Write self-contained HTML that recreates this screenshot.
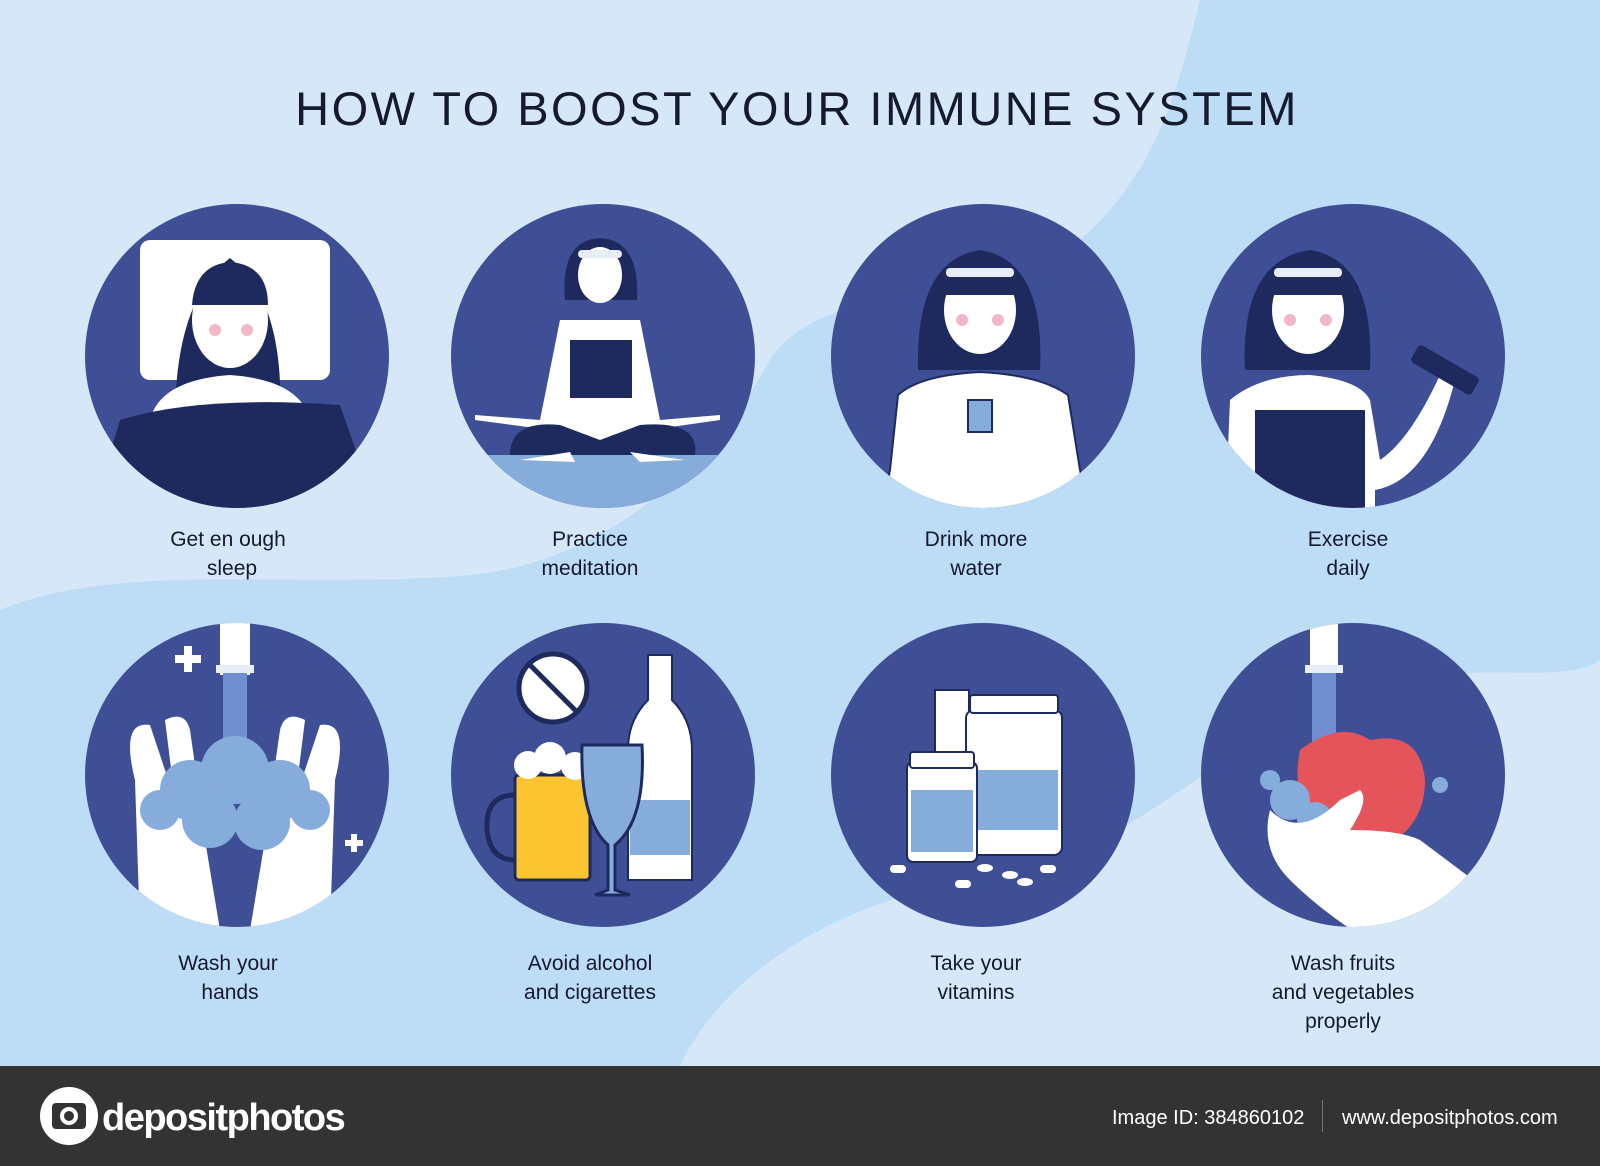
<!DOCTYPE html>
<html><head><meta charset="utf-8"><style>
html,body{margin:0;padding:0}
body{width:1600px;height:1166px;overflow:hidden;font-family:"Liberation Sans",Arial,sans-serif;background:#d6e8f8}
</style></head><body>
<svg width="1600" height="1166" viewBox="0 0 1600 1166" xmlns="http://www.w3.org/2000/svg" style="position:absolute;left:0;top:0">
<rect width="1600" height="1166" fill="#d6e8f8"/>
<path d="M1200 0 C1180 80 1160 170 1080 240 C990 300 820 280 770 360 C720 450 620 560 470 575 C300 590 120 560 0 610 L0 1066 L680 1066 C720 980 830 900 980 880 C1120 860 1200 760 1330 700 C1450 650 1560 690 1600 660 L1600 0 Z" fill="#bddcf6"/>
<text x="797" y="125" text-anchor="middle" font-size="47" fill="#151a2e" letter-spacing="2.5">HOW  TO BOOST YOUR IMMUNE SYSTEM</text>
<g fill="#3f4f96">
<circle cx="237" cy="356" r="152"/><circle cx="603" cy="356" r="152"/><circle cx="983" cy="356" r="152"/><circle cx="1353" cy="356" r="152"/>
<circle cx="237" cy="775" r="152"/><circle cx="603" cy="775" r="152"/><circle cx="983" cy="775" r="152"/><circle cx="1353" cy="775" r="152"/>
</g>
<defs>
<clipPath id="c1"><circle cx="237" cy="356" r="152"/></clipPath>
<clipPath id="c2"><circle cx="603" cy="356" r="152"/></clipPath>
<clipPath id="c3"><circle cx="983" cy="356" r="152"/></clipPath>
<clipPath id="c4"><circle cx="1353" cy="356" r="152"/></clipPath>
<clipPath id="c5"><circle cx="237" cy="775" r="152"/></clipPath>
<clipPath id="c6"><circle cx="603" cy="775" r="152"/></clipPath>
<clipPath id="c7"><circle cx="983" cy="775" r="152"/></clipPath>
<clipPath id="c8"><circle cx="1353" cy="775" r="152"/></clipPath>
</defs>
<g clip-path="url(#c1)">
<rect x="140" y="240" width="190" height="140" rx="10" fill="#fff"/>
<path d="M175 420 Q175 300 230 258 Q285 300 280 420 Z" fill="#1e2a5e"/>
<ellipse cx="230" cy="320" rx="38" ry="48" fill="#fff"/>
<path d="M192 305 Q195 265 230 262 Q268 265 268 305 Z" fill="#1e2a5e"/>
<circle cx="215" cy="330" r="6" fill="#f3b8c8"/><circle cx="247" cy="330" r="6" fill="#f3b8c8"/>
<path d="M150 420 Q160 380 230 375 Q300 380 310 420 Z" fill="#fff"/>
<path d="M120 420 Q200 395 340 405 L380 520 L90 520 Z" fill="#1e2a5e"/>
</g>
<g clip-path="url(#c2)">
<rect x="440" y="455" width="330" height="60" fill="#86acdb"/>
<path d="M565 300 Q560 240 600 238 Q640 240 637 300 Z" fill="#1e2a5e"/>
<ellipse cx="600" cy="275" rx="22" ry="28" fill="#fff"/>
<rect x="578" y="250" width="44" height="8" rx="4" fill="#e8eef8"/>
<path d="M560 320 L640 320 L660 420 L720 415 L720 420 L650 430 L640 440 L560 440 L550 430 L475 420 L475 415 L540 420 Z" fill="#fff"/>
<rect x="570" y="340" width="62" height="58" fill="#1e2a5e"/>
<path d="M510 455 Q510 420 560 425 L600 440 L640 425 Q700 420 695 455 Z" fill="#1e2a5e"/>
<path d="M520 460 L570 452 L575 462 Z M630 452 L685 460 L640 462 Z" fill="#fff"/>
</g>
<g clip-path="url(#c3)">
<path d="M918 370 Q915 260 980 250 Q1045 260 1040 370 Z" fill="#1e2a5e"/>
<ellipse cx="980" cy="310" rx="36" ry="44" fill="#fff"/>
<path d="M945 295 Q948 260 980 258 Q1013 260 1015 295 Z" fill="#1e2a5e"/>
<rect x="946" y="268" width="68" height="9" rx="4" fill="#e8eef8"/>
<circle cx="962" cy="320" r="6" fill="#f3b8c8"/><circle cx="998" cy="320" r="6" fill="#f3b8c8"/>
<path d="M890 470 L898 395 Q920 375 980 372 Q1040 375 1068 395 L1080 470 L1090 520 L880 520 Z" fill="#fff" stroke="#1e2a5e" stroke-width="2"/>
<rect x="968" y="400" width="24" height="32" fill="#86acdb" stroke="#1e2a5e" stroke-width="2"/>
</g>
<g clip-path="url(#c4)">
<path d="M1245 370 Q1240 260 1310 250 Q1375 260 1370 370 Z" fill="#1e2a5e"/>
<ellipse cx="1308" cy="310" rx="36" ry="44" fill="#fff"/>
<path d="M1273 295 Q1276 260 1308 258 Q1342 260 1343 295 Z" fill="#1e2a5e"/>
<rect x="1274" y="268" width="68" height="9" rx="4" fill="#e8eef8"/>
<circle cx="1290" cy="320" r="6" fill="#f3b8c8"/><circle cx="1326" cy="320" r="6" fill="#f3b8c8"/>
<path d="M1225 520 L1230 400 Q1260 375 1310 375 Q1360 380 1370 400 L1380 460 Q1410 440 1440 375 L1455 380 Q1430 480 1375 490 L1375 520 Z" fill="#fff"/>
<rect x="1255" y="410" width="110" height="110" fill="#1e2a5e"/>
<g transform="rotate(30 1445 370)"><rect x="1410" y="360" width="70" height="20" rx="4" fill="#1e2a5e"/></g>
</g>
<g clip-path="url(#c5)">
<rect x="220" y="620" width="30" height="55" fill="#fff"/>
<rect x="216" y="665" width="38" height="8" fill="#e8eef8"/>
<rect x="223" y="673" width="24" height="90" fill="#6f8fd0"/>
<path d="M135 780 Q120 720 150 725 L175 800 L165 720 Q185 710 190 730 L200 800 L205 840 L220 930 L140 930 Z" fill="#fff"/>
<path d="M335 780 Q350 720 320 725 L295 800 L305 720 Q285 710 280 730 L270 800 L265 840 L250 930 L330 930 Z" fill="#fff"/>
<g fill="#86acdb"><circle cx="190" cy="790" r="30"/><circle cx="235" cy="770" r="34"/><circle cx="280" cy="790" r="30"/><circle cx="210" cy="820" r="28"/><circle cx="262" cy="822" r="28"/><circle cx="160" cy="810" r="20"/><circle cx="310" cy="810" r="20"/></g>
<g fill="#fff"><rect x="175" y="655" width="26" height="8"/><rect x="184" y="646" width="8" height="26"/><rect x="345" y="840" width="18" height="6"/><rect x="351" y="834" width="6" height="18"/></g>
</g>
<g clip-path="url(#c6)">
<circle cx="553" cy="688" r="34" fill="#fff" stroke="#1e2a5e" stroke-width="5"/>
<line x1="530" y1="665" x2="576" y2="711" stroke="#1e2a5e" stroke-width="5"/>
<path d="M648 655 L672 655 L672 700 Q692 720 692 750 L692 880 L628 880 L628 750 Q628 720 648 700 Z" fill="#fff" stroke="#1e2a5e" stroke-width="2"/>
<rect x="630" y="800" width="60" height="55" fill="#86acdb"/>
<rect x="515" y="775" width="75" height="105" rx="4" fill="#fbc531" stroke="#1e2a5e" stroke-width="3"/>
<path d="M515 795 Q485 795 487 830 Q490 860 515 860" fill="none" stroke="#1e2a5e" stroke-width="5"/>
<g fill="#fff"><circle cx="528" cy="765" r="14"/><circle cx="550" cy="758" r="16"/><circle cx="575" cy="766" r="14"/></g>
<path d="M582 745 L642 745 Q646 820 615 845 L615 890 L630 895 L595 895 L608 890 L608 845 Q580 820 582 745 Z" fill="#86acdb" stroke="#1e2a5e" stroke-width="3"/>
</g>
<g clip-path="url(#c7)">
<rect x="935" y="690" width="34" height="90" fill="#fff" stroke="#1e2a5e" stroke-width="2"/>
<rect x="966" y="710" width="96" height="145" rx="8" fill="#fff" stroke="#1e2a5e" stroke-width="2"/>
<rect x="970" y="695" width="88" height="18" rx="3" fill="#fff" stroke="#1e2a5e" stroke-width="2"/>
<rect x="970" y="770" width="88" height="60" fill="#86acdb"/>
<rect x="907" y="762" width="70" height="100" rx="6" fill="#fff" stroke="#1e2a5e" stroke-width="2"/>
<rect x="910" y="752" width="64" height="16" rx="3" fill="#fff" stroke="#1e2a5e" stroke-width="2"/>
<rect x="911" y="790" width="62" height="62" fill="#86acdb"/>
<g fill="#fff"><rect x="890" y="865" width="16" height="8" rx="4"/><rect x="1040" y="865" width="16" height="8" rx="4"/><rect x="955" y="880" width="16" height="8" rx="4"/><ellipse cx="985" cy="868" rx="8" ry="4"/><ellipse cx="1010" cy="875" rx="8" ry="4"/><ellipse cx="1025" cy="882" rx="8" ry="4"/></g>
</g>
<g clip-path="url(#c8)">
<rect x="1310" y="620" width="28" height="50" fill="#fff"/>
<rect x="1305" y="665" width="38" height="8" fill="#e8eef8"/>
<rect x="1312" y="673" width="24" height="100" fill="#6f8fd0"/>
<path d="M1300 750 Q1340 720 1370 740 Q1420 730 1425 780 Q1425 820 1395 840 Q1350 850 1320 830 Q1290 800 1300 750 Z" fill="#e4545a"/>
<g fill="#86acdb"><circle cx="1290" cy="800" r="20"/><circle cx="1315" cy="820" r="18"/><circle cx="1270" cy="780" r="10"/><circle cx="1440" cy="785" r="8"/></g>
<path d="M1270 810 Q1300 840 1340 800 L1360 790 Q1370 800 1350 830 Q1400 830 1420 840 L1500 900 L1400 960 Q1330 920 1290 880 Q1260 850 1270 810 Z" fill="#fff"/>
</g>
<g font-size="21" fill="#151a2e" text-anchor="middle">
<text x="228" y="546">Get  en ough</text><text x="232" y="575">sleep</text>
<text x="590" y="546">Practice</text><text x="590" y="575">meditation</text>
<text x="976" y="546">Drink more</text><text x="976" y="575">water</text>
<text x="1348" y="546">Exercise</text><text x="1348" y="575">daily</text>
<text x="228" y="970">Wash your</text><text x="230" y="999">hands</text>
<text x="590" y="970">Avoid alcohol</text><text x="590" y="999">and cigarettes</text>
<text x="976" y="970">Take your</text><text x="976" y="999">vitamins</text>
<text x="1343" y="970">Wash fruits</text><text x="1343" y="999">and vegetables</text><text x="1343" y="1028">properly</text>
</g>
<rect x="0" y="1066" width="1600" height="100" fill="#333333"/>
<circle cx="69" cy="1116" r="29" fill="#fff"/>
<rect x="52" y="1103" width="34" height="26" rx="4" fill="#333"/>
<circle cx="69" cy="1116" r="9" fill="#fff"/><circle cx="69" cy="1116" r="5" fill="#333"/>
<text x="102" y="1130" font-size="38" font-weight="bold" fill="#fff" letter-spacing="-1.5">depositphotos</text>
<text x="1112" y="1124" font-size="20" fill="#fff">Image ID: 384860102</text>
<rect x="1322" y="1100" width="1" height="32" fill="#777"/>
<text x="1342" y="1124" font-size="20" fill="#fff">www.depositphotos.com</text>
</svg>
</body></html>
